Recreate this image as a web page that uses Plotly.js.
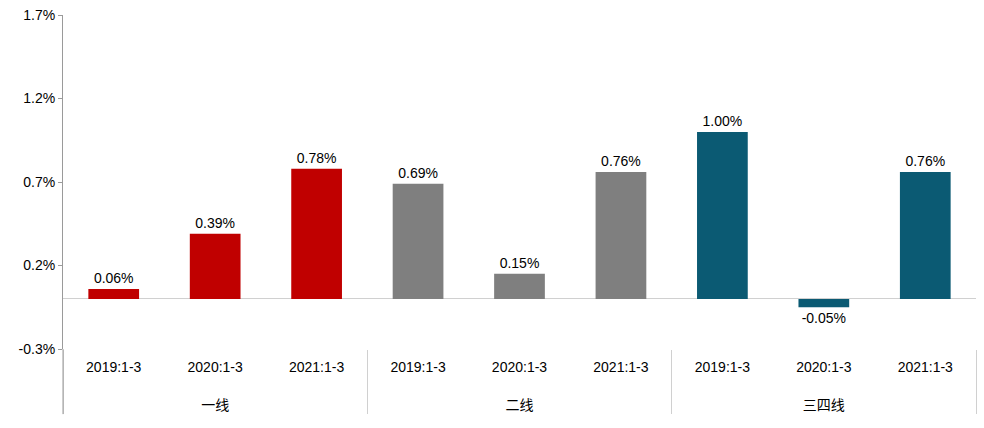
<!DOCTYPE html>
<html>
<head>
<meta charset="utf-8">
<script src="https://cdn.plot.ly/plotly-3.0.1.min.js"></script>
<style>html,body{margin:0;padding:0;background:#fff;}#chart{width:984px;height:428px;}</style>
</head>
<body>
<div id="chart"></div>
<script>
const groups = ["一线", "二线", "三四线"];
const periods = ["2019:1-3", "2020:1-3", "2021:1-3"];
const tier1 = [0.06, 0.39, 0.78];
const tier2 = [0.69, 0.15, 0.76];
const tier34 = [1.00, -0.05, 0.76];
const groupColors = ["#C00000", "#7F7F7F", "#0B5A73"];
const yTicks = [-0.3, 0.2, 0.7, 1.2, 1.7];

const series = [tier1, tier2, tier34];
const xGroup = [], xPeriod = [], yVals = [], colors = [], texts = [];
groups.forEach((g, gi) => {
  periods.forEach((p, pi) => {
    xGroup.push(g);
    xPeriod.push(p + "<br><span style='font-size:40px'> </span>");
    const v = series[gi][pi];
    yVals.push(v); colors.push(groupColors[gi]);
    texts.push(v.toFixed(2) + "%");
  });
});

const fontFam = "Liberation Sans, Noto Sans CJK SC, sans-serif";
const trace = {
  type: "bar",
  x: [xGroup, xPeriod],
  y: yVals,
  marker: {color: colors},
  text: texts,
  textposition: "outside",
  cliponaxis: false,
  textfont: {family: fontFam, size: 14, color: "#000"},
  hoverinfo: "skip"
};

const layout = {
  width: 984, height: 428,
  margin: {l: 63, r: 8, t: 15, b: 79},
  paper_bgcolor: "#ffffff",
  plot_bgcolor: "#ffffff",
  showlegend: false,
  bargap: 0.5,
  font: {family: fontFam, color: "#000"},
  xaxis: {
    type: "multicategory",
    showgrid: false,
    showline: false,
    ticks: "",
    ticklabelstandoff: 8,
    showdividers: true,
    dividercolor: "#d0d0d0",
    dividerwidth: 1,
    tickfont: {family: fontFam, size: 14, color: "#000"}
  },
  yaxis: {
    range: [-0.3, 1.7],
    tickvals: yTicks,
    ticktext: yTicks.map(v => v.toFixed(1) + "%"),
    showgrid: false,
    zeroline: true,
    zerolinecolor: "#d0d0d0",
    zerolinewidth: 1,
    showline: true,
    linecolor: "#9a9a9a",
    linewidth: 1,
    ticks: "outside",
    ticklen: 4,
    tickcolor: "#9a9a9a",
    tickfont: {family: fontFam, size: 14, color: "#000"}
  },
  shapes: [{
    type: "line", xref: "paper", yref: "paper",
    x0: 0, x1: 0, y0: 0, y1: -0.195,
    line: {color: "#9a9a9a", width: 1}
  }]
};

Plotly.newPlot("chart", [trace], layout, {displayModeBar: false, staticPlot: true});
</script>
</body>
</html>
